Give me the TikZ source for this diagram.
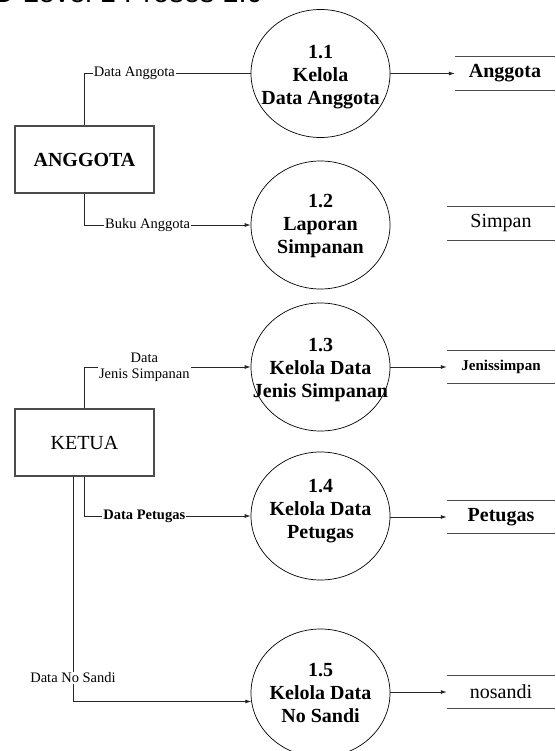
\documentclass[tikz,border=0pt]{standalone}
\usepackage{fontspec}
\setmainfont{Liberation Serif}
\newfontfamily\titlefont{Liberation Sans}
\usetikzlibrary{arrows.meta,shapes.geometric}

\begin{document}
\begin{tikzpicture}[x=1pt,y=-1pt,
  proc/.style={ellipse,draw=black,line width=0.7pt,minimum width=139pt,minimum height=128pt,inner sep=0pt},
  ptext/.style={font=\fontsize{20}{23}\selectfont\bfseries,align=center,inner sep=0pt},
  ent/.style={draw=black!70,line width=1.1pt,minimum width=139pt,minimum height=67pt,inner sep=0pt,font=\fontsize{20}{23}\selectfont},
  store/.style={minimum width=108pt,minimum height=33pt,inner sep=0pt,font=\fontsize{20}{23}\selectfont},
  storeline/.style={draw=black!70,line width=1.1pt},
  lbl/.style={fill=white,inner sep=1pt,font=\fontsize{14.5}{16}\selectfont},
  flow/.style={draw=black!85,line width=0.8pt},
  arr/.style={flow,-{Latex[length=6pt,width=4pt]}},
]
\clip (0,0) rectangle (555,751);
\useasboundingbox (0,0) rectangle (555,751);

% heading, partly outside the frame
\node[font=\titlefont\fontsize{29}{30}\selectfont,anchor=base east,inner sep=0pt] (title) at (263,3) {DFD Level 1 Proses 1.0};

% external entities
\node[ent,font=\fontsize{20}{23}\selectfont\bfseries] (ang) at (84.5,159.5) {ANGGOTA};
\node[ent] (ket) at (84.5,442.5) {KETUA};

% processes
\node[proc] (p1) at (320.5,73.5) {};
\node[ptext] (t1) at ([yshift=-4pt]p1.center) {1.1\\Kelola\\Data Anggota};
\node[proc] (p2) at (320.5,225) {};
\node[ptext] (t2) at ([yshift=-1pt]p2.center) {1.2\\Laporan\\Simpanan};
\node[proc] (p3) at (320.5,367) {};
\node[ptext] (t3) at ([yshift=-3pt]p3.center) {1.3\\Kelola Data\\Jenis Simpanan};
\node[proc] (p4) at (320.5,516) {};
\node[ptext] (t4) at ([yshift=5pt]p4.center) {1.4\\Kelola Data\\Petugas};
\node[proc] (p5) at (320.5,693) {};
\node[ptext] (t5) at (p5) {1.5\\Kelola Data\\No Sandi};

% data stores
\node[store,minimum width=100pt,font=\fontsize{20}{23}\selectfont\bfseries] (s1) at (505,73.5) {Anggota};
\node[store] (s2) at (501,223.5) {Simpan};
\node[store,font=\fontsize{15}{17}\selectfont\bfseries] (s3) at (501,367) {Jenissimpan};
\node[store,font=\fontsize{20}{23}\selectfont\bfseries] (s4) at (501,517) {Petugas};
\node[store] (s5) at (501,692) {nosandi};
\foreach \s in {s1,s2,s3,s4,s5}
  \draw[storeline] (\s.north west) -- (\s.north east) (\s.south west) -- (\s.south east);

% flows from the entities
\draw[flow] (ang.north) |- node[lbl,pos=0.65] (l1) {Data Anggota} (p1.west);
\draw[arr] (ang.south) |- node[lbl,pos=0.69] (l2) {Buku Anggota} (p2.west);
\draw[arr] (ket.north) |- node[lbl,pos=0.68,align=center] (l3) {Data\\Jenis Simpanan} (p3.west);
\draw[arr] (ket.south) |- node[lbl,pos=0.68,font=\fontsize{14.5}{16}\selectfont\bfseries] (l4) {Data Petugas} (p4.west);
\draw[arr] ([xshift=-11.5pt]ket.south) |- node[lbl,pos=0.447] (l5) {Data No Sandi} (p5.187);

% flows into the stores
\draw[arr] (p1.east) -- (s1.west);
\draw[arr] (p3.east) -- (s3.west);
\draw[arr] (p4.east |- s4.west) -- (s4.west);
\draw[arr] (p5.east |- s5.west) -- (s5.west);
\end{tikzpicture}
\end{document}
